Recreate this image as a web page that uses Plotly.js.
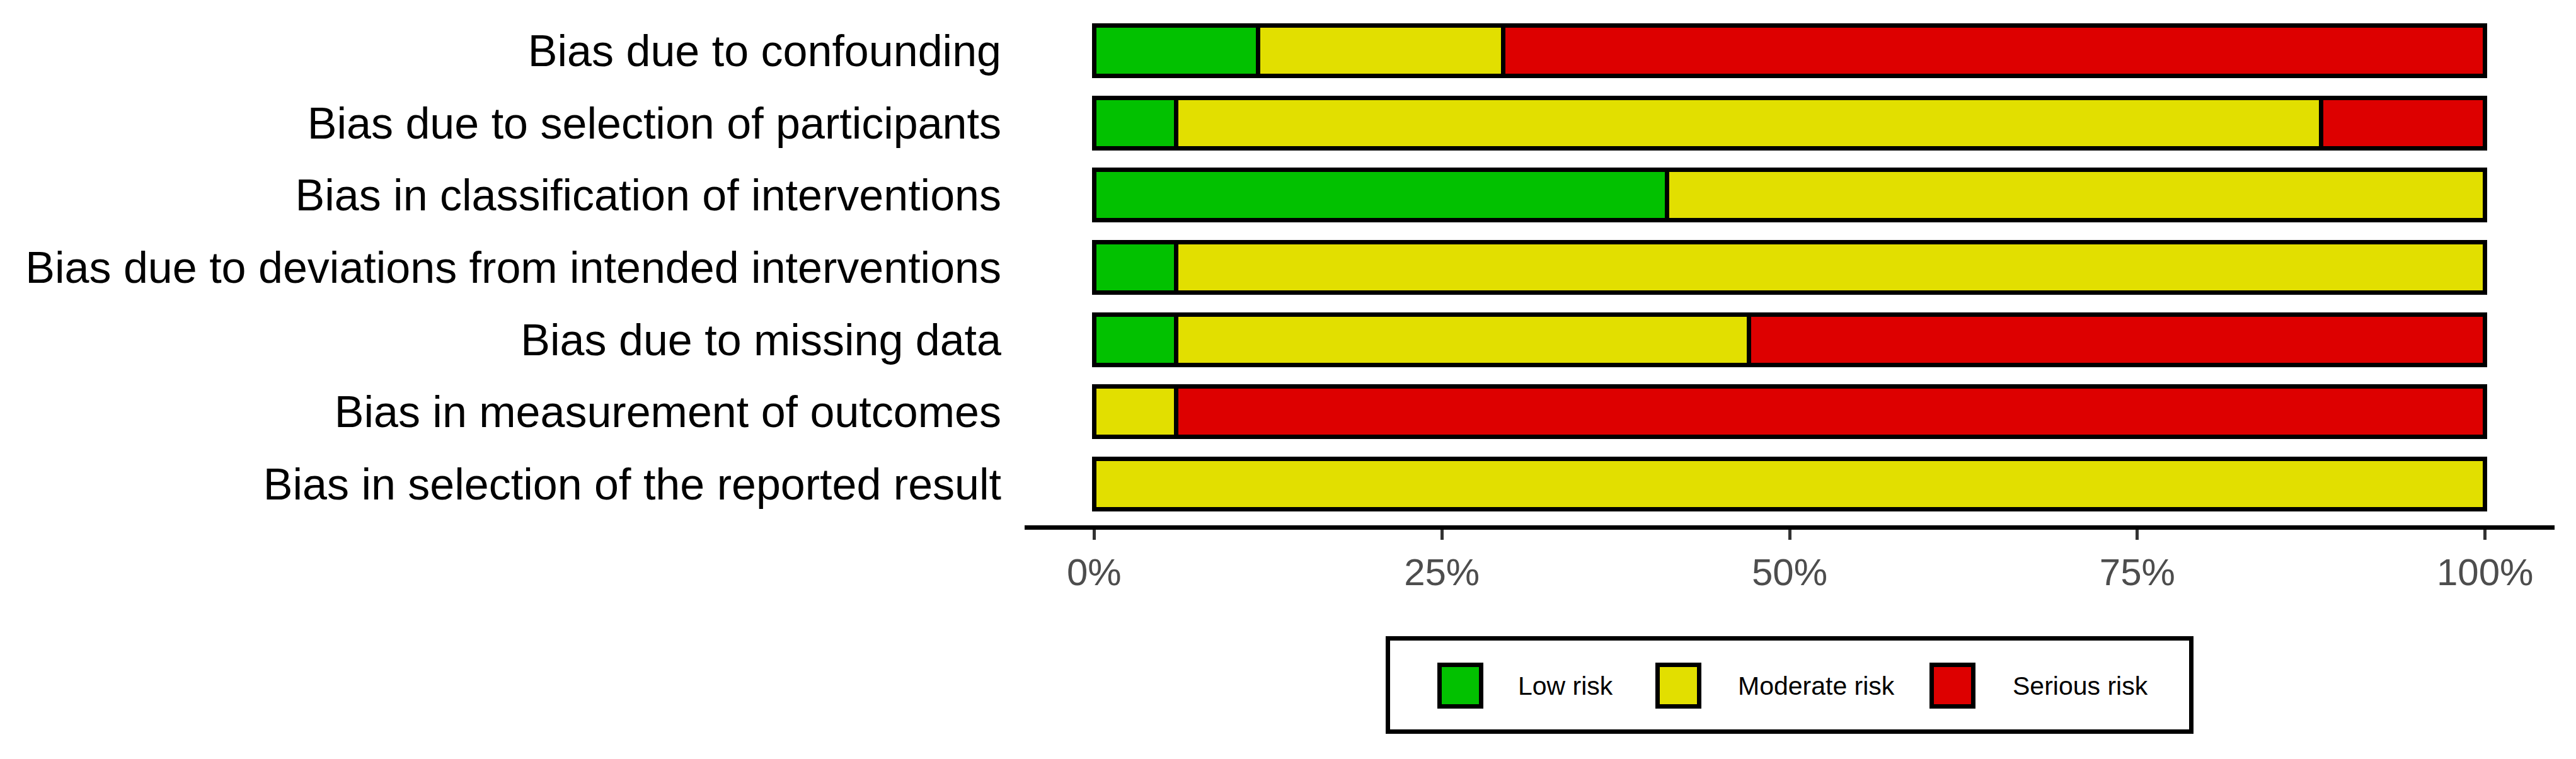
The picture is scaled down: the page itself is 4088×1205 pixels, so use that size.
<!DOCTYPE html>
<html>
<head>
<meta charset="utf-8">
<script src="https://cdn.plot.ly/plotly-3.0.1.min.js"></script>
<style>
  html, body { margin: 0; padding: 0; background: #ffffff; }
  #chart { width: 4088px; height: 1205px; }
</style>
</head>
<body>
<div id="chart"></div>
<script>
// ---- Data (percent of studies) ----
const domains = [
  "Bias due to confounding",
  "Bias due to selection of participants",
  "Bias in classification of interventions",
  "Bias due to deviations from intended interventions",
  "Bias due to missing data",
  "Bias in measurement of outcomes",
  "Bias in selection of the reported result"
];
const lowRisk      = [11.8,  5.9, 41.2,  5.9,  5.9,  0.0,   0.0];
const moderateRisk = [17.6, 82.3, 58.8, 94.1, 41.2,  5.9, 100.0];
const seriousRisk  = [70.6, 11.8,  0.0,  0.0, 52.9, 94.1,   0.0];

const seriesNames  = ["Low risk", "Moderate risk", "Serious risk"];
const seriesColors = ["#02C100", "#E2DF00", "#DD0000"];

const xTickVals  = [0, 25, 50, 75, 100];
const xTickTexts = ["0%", "25%", "50%", "75%", "100%"];

// ---- Layout geometry (pixels) ----
const W = 4088, H = 1205;
const plotL = 1626, plotR = 4054, plotT = 11, plotB = 834;
const pw = plotR - plotL, ph = plotB - plotT;
const px = v => (v - plotL) / pw;
const py = v => (plotB - v) / ph;

const seriesValues = [lowRisk, moderateRisk, seriousRisk];
const traces = seriesValues.map((vals, i) => ({
  type: "bar",
  orientation: "h",
  name: seriesNames[i],
  x: vals,
  y: domains,
  width: 0.7,
  marker: { color: seriesColors[i], line: { color: "#000000", width: 7 } },
  showlegend: false,
  hoverinfo: "x+y+name"
}));

// ---- Manual legend (box, keys, labels) ----
const shapes = [{
  type: "rect", xref: "paper", yref: "paper",
  x0: px(2202.5), x1: px(3477.5), y0: py(1161.5), y1: py(1013.5),
  line: { color: "#000000", width: 7 }, fillcolor: "rgba(0,0,0,0)"
}];
const keyLeft = [2284.5, 2630.5, 3065.5];
const labelLeft = [2407, 2756, 3192];
const annotations = [];
seriesNames.forEach((nm, i) => {
  shapes.push({
    type: "rect", xref: "paper", yref: "paper",
    x0: px(keyLeft[i]), x1: px(keyLeft[i] + 66),
    y0: py(1121.5), y1: py(1055.5),
    line: { color: "#000000", width: 7 }, fillcolor: seriesColors[i]
  });
  annotations.push({
    xref: "paper", yref: "paper",
    x: px(labelLeft[i]), y: py(1089),
    xanchor: "left", yanchor: "middle",
    text: nm, showarrow: false,
    font: { family: "Liberation Sans, Arial, sans-serif", size: 41, color: "#000000" }
  });
});

const layout = {
  width: W, height: H,
  paper_bgcolor: "#ffffff", plot_bgcolor: "#ffffff",
  margin: { l: plotL, r: W - plotR, t: plotT, b: H - plotB, pad: 0 },
  barmode: "stack",
  showlegend: false,
  font: { family: "Liberation Sans, Arial, sans-serif" },
  xaxis: {
    range: [-5, 105],
    tickmode: "array", tickvals: xTickVals, ticktext: xTickTexts,
    showgrid: false, zeroline: false,
    showline: true, linecolor: "#000000", linewidth: 7,
    ticks: "outside", ticklen: 16, tickwidth: 5, tickcolor: "#333333",
    tickfont: { size: 60, color: "#4D4D4D", family: "Liberation Sans, Arial, sans-serif" },
    fixedrange: true
  },
  yaxis: {
    type: "category",
    range: [6.571, -0.606],
    showgrid: false, zeroline: false, showline: false,
    ticks: "", ticklabelstandoff: 36,
    tickfont: { size: 70, color: "#000000", family: "Liberation Sans, Arial, sans-serif" },
    fixedrange: true
  },
  shapes: shapes,
  annotations: annotations
};

Plotly.newPlot("chart", traces, layout, { displayModeBar: false, staticPlot: true });
</script>
</body>
</html>
